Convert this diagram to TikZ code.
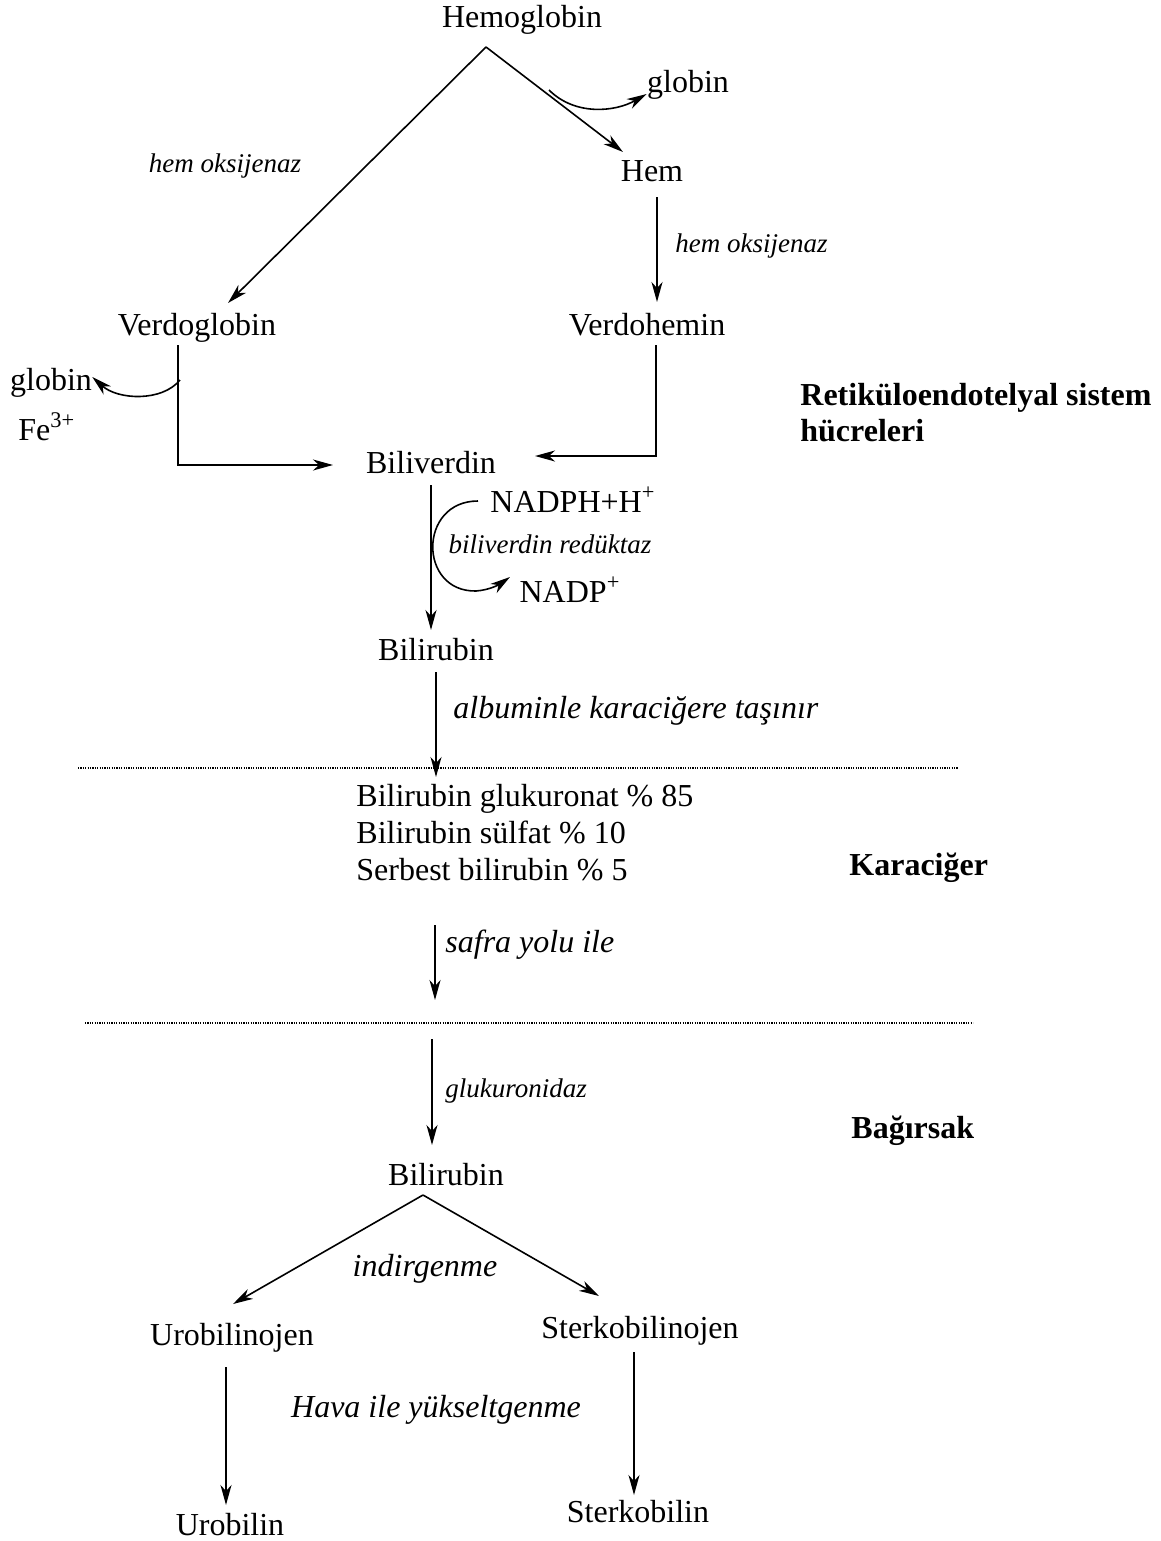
\documentclass[tikz,border=0pt]{standalone}
\usepackage{fontspec}
\setmainfont{Liberation Serif}
\usetikzlibrary{arrows.meta, positioning, calc}

\tikzset{
  rxn/.style={-{Stealth[length=10pt,width=5.5pt,inset=3pt]}, line width=0.8pt},
  plain/.style={line width=0.8pt},
  chem/.style={font=\fontsize{16}{18.5}\selectfont, inner sep=0pt, anchor=base},
  enz/.style={font=\fontsize{13.5}{16}\selectfont\itshape, inner sep=0pt, anchor=base},
  route/.style={font=\fontsize{16}{19}\selectfont\itshape, inner sep=0pt, anchor=base},
  organ/.style={font=\fontsize{16}{18}\selectfont\bfseries, inner sep=0pt, anchor=base west, align=left},
  border/.style={line width=0.6pt, dash pattern=on 0.6pt off 0.6pt},
}

\begin{document}
\begin{tikzpicture}[x=0.5pt, y=-0.5pt]
\useasboundingbox (0,0) rectangle (1161,1541);

% Retiküloendotelyal sistem
\node[chem] (hemoglobin) at (522,28) {Hemoglobin};
\node[chem] (globinA) at (688,93) {globin};
\node[enz] (hoxA) at (225,172) {hem oksijenaz};
\node[chem] (hem) at (652,181) {Hem};
\node[enz, anchor=base west] (hoxB) at (675,252) {hem oksijenaz};
\node[chem] (verdoglobin) at (197,335) {Verdoglobin};
\node[chem] (verdohemin) at (647,335) {Verdohemin};
\node[chem] (globinB) at (51,390) {globin};
\node[chem, anchor=base west] (fe) at (18,440) {Fe\textsuperscript{3+}};
\node[organ] (res) at (800,441) {Retiküloendotelyal sistem\\hücreleri};
\node[chem] (biliverdin) at (431,473) {Biliverdin};
\node[chem, anchor=base west] (nadph) at (490,512) {NADPH+H\textsuperscript{+}};
\node[enz] (bvr) at (550,553) {biliverdin redüktaz};
\node[chem] (nadp) at (570,602) {NADP\textsuperscript{+}};
\node[chem] (bilirubinA) at (436,660) {Bilirubin};
\node[route, anchor=base west] (albumin) at (453,718) {albuminle karaciğere taşınır};

\coordinate (hbfork) at (486,47);
\coordinate (vgtip) at (228,303);
\coordinate (hemtip) at (623,152);
\draw[rxn] (hbfork) -- (vgtip);
\draw[rxn] (hbfork) -- (hemtip);
\draw[rxn] (549,90) .. controls (575,116) and (615,112) .. (globinA.west |- 0,94);

\coordinate (hemout) at (657,197);
\coordinate (vhtip) at (657,302);
\draw[rxn] (hemout) -- (vhtip);

\coordinate (vgout) at (178,345);
\coordinate (vgturn) at (178,465);
\coordinate (bvtipL) at (333,465);
\draw[rxn] (vgout) -- (vgturn) -- (bvtipL);
\coordinate (gbstart) at (180,380);
\draw[rxn] (gbstart) .. controls (162,402) and (118,400) .. (globinB.east |- 0,377);

\coordinate (vhout) at (656,345);
\coordinate (vhturn) at (656,456);
\coordinate (bvtipR) at (535,456);
\draw[rxn] (vhout) -- (vhturn) -- (bvtipR);

\coordinate (bvout) at (431,485);
\coordinate (brtip) at (431,630);
\draw[rxn] (bvout) -- (brtip);
\coordinate (nadphin) at (478,501);
\coordinate (nadpout) at (510,577);
\draw[rxn] (nadphin) .. controls (418,501) and (418,592) .. (476,591)
  .. controls (490,590) and (500,584) .. (nadpout);

\coordinate (brout) at (436,672);
\coordinate (lvtip) at (436,777);
\draw[rxn] (brout) -- (lvtip);

% Karaciğer
\draw[border] (78,768) -- (958,768);
\node[chem, anchor=base west, align=left] (conj) at (356,880)
  {Bilirubin glukuronat \% 85\\Bilirubin sülfat \% 10\\Serbest bilirubin \% 5};
\node[organ] (liver) at (849,875) {Karaciğer};
\node[route, anchor=base west] (safra) at (445,952) {safra yolu ile};
\coordinate (lvout) at (435,925);
\coordinate (gutin) at (435,1000);
\draw[rxn] (lvout) -- (gutin);

% Bağırsak
\draw[border] (85,1023) -- (973,1023);
\node[enz, anchor=base west] (gluk) at (445,1097) {glukuronidaz};
\node[organ] (gut) at (851,1138) {Bağırsak};
\coordinate (gutout) at (432,1039);
\coordinate (brtipB) at (432,1145);
\draw[rxn] (gutout) -- (brtipB);

\node[chem] (bilirubinB) at (446,1185) {Bilirubin};
\node[route] (indirg) at (425,1276) {indirgenme};
\node[chem] (urobilinojen) at (232,1345) {Urobilinojen};
\node[chem] (sterkobilinojen) at (640,1338) {Sterkobilinojen};
\node[route] (hava) at (436,1417) {Hava ile yükseltgenme};
\node[chem] (urobilin) at (230,1535) {Urobilin};
\node[chem] (sterkobilin) at (638,1522) {Sterkobilin};

\coordinate (brfork) at (423,1195);
\coordinate (ubgtip) at (233,1304);
\coordinate (sbgtip) at (599,1296);
\draw[rxn] (brfork) -- (ubgtip);
\draw[rxn] (brfork) -- (sbgtip);

\coordinate (ubgout) at (226,1367);
\coordinate (ubtip) at (226,1505);
\draw[rxn] (ubgout) -- (ubtip);
\coordinate (sbgout) at (634,1352);
\coordinate (sbtip) at (634,1495);
\draw[rxn] (sbgout) -- (sbtip);
\end{tikzpicture}
\end{document}
